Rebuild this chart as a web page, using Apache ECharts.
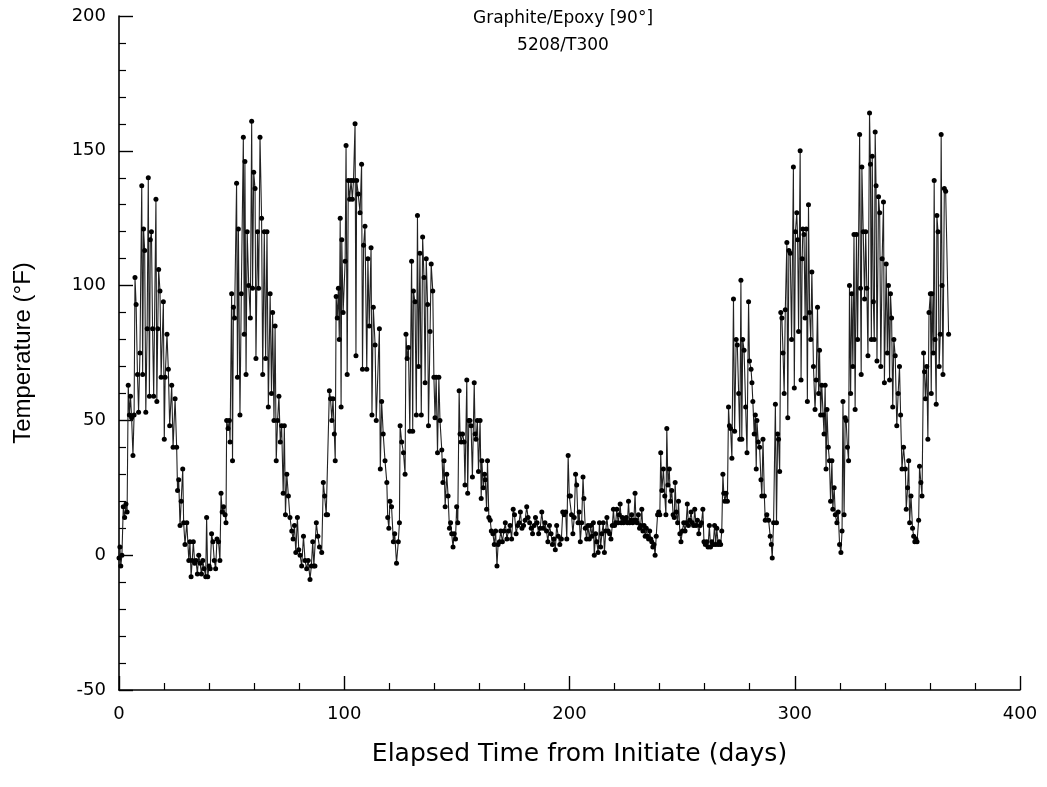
<!DOCTYPE html>
<html>
<head>
<meta charset="utf-8">
<script src="https://cdn.jsdelivr.net/npm/echarts@6/dist/echarts.min.js"></script>
<style>
html,body{margin:0;padding:0;background:#fff;}
#chart{width:1047px;height:787px;}
</style>
</head>
<body>
<div id="chart"></div>
<script>
// Axis settings
const xRange = [0, 400];
const xStep = 100;
const yRange = [-50, 200];
const yStep = 50;
const titleLines = ['Graphite/Epoxy [90°]', '5208/T300'];
const xName = 'Elapsed Time from Initiate (days)';
const yName = 'Temperature (°F)';

// [elapsed day, temperature °F]
const p1 = [[0,-1],[0.4,3],[0.8,-4],[1.3,0],[1.9,18],[2.5,14],[3.1,19],[3.6,16],
[4.1,63],[4.6,52],[5.1,59],[5.6,51],[6.2,37],[6.7,52],
[7.1,103],[7.6,93],[8.2,67],[8.7,53],[9.3,75],
[10.1,137],[10.5,67],[10.9,121],[11.4,113],[11.9,53],[12.5,84],
[13.0,140],[13.5,59],[13.9,117],[14.4,120],[14.9,84],[15.4,59],
[16.4,132],[16.8,57],[17.2,84],[17.6,106],[18.2,98],[18.7,66],
[19.7,94],[20.1,43],[20.5,66],[21.3,82],[21.9,69],[22.5,48],
[23.4,63],[24.0,40],[24.9,58],[25.6,40],[26.0,24],[26.5,28],[27.1,11],[27.6,20],[28.3,32],[28.7,12],[29.3,4],[30.1,12]];

const p2 = [[31.0,-2],[31.5,5],[32.0,-8],[32.5,-2],[33.0,5],[33.6,-3],[34.2,-2],[34.8,-7],[35.4,0],[36.0,-3],[36.6,-7],[37.2,-2],[37.8,-5],[38.5,-8],[38.9,14],[39.4,-8],[40.0,-4],[40.5,-5],[41.1,8],[41.7,5],[42.3,-2],[42.9,-5],[43.5,6],[44.2,5],[44.8,-2],[45.3,23],[45.8,16],[46.4,18],[47.1,15],[47.5,12],[47.8,50],[48.4,47],[49.0,50],[49.3,42],[50.0,97],[50.4,35],[50.8,92],[51.3,88]];

const p3 = [[52.2,138],[52.6,66],[53.0,121],[53.7,52],[54.3,97],[55.2,155],[55.6,82],[55.9,146],[56.4,67],[56.9,120],[57.6,100],[58.3,88],[58.9,161],[59.3,99],[59.8,142],[60.4,136],[60.8,73],[61.5,120],[62.0,99]];

const p4 = [[62.6,155],[63.3,125],[63.8,67],[64.5,120],[65.1,73],[65.7,120],[66.3,55],[67.1,97],[67.7,60],[68.2,90],[68.8,50],[69.3,85],[69.8,35],[70.4,50],[71.0,59],[71.6,42],[72.2,48],[72.9,23],[73.4,48],[73.9,15],[74.5,30],[75.2,22],[75.9,14],[76.7,9],[77.3,6],[77.9,11],[78.5,1],[79.2,14],[79.8,2],[80.4,0],[81.1,-4],[81.9,7],[82.6,-2],[83.3,-5],[84.0,-2],[84.8,-9],[85.4,-4],[86.0,5],[86.5,-4],[87.0,-4],[87.6,12],[88.3,7],[89.0,3],[90.0,1],[90.7,27],[91.3,22],[92.0,15],[92.6,15],[93.4,61],[93.9,58],[94.5,50],[95.0,58],[95.6,45],[96.0,35],[96.4,96],[96.9,88],[97.4,99],[97.8,80],[98.2,125],[98.6,55],[98.9,117],[99.5,90],[100.4,109],[100.8,152],[101.3,67],[101.8,139],[102.4,132],[103.0,139],[103.6,132],[104.1,139],[104.8,160],[105.2,74],[105.5,139],[106.2,134],[107.0,127],[107.7,145],[108.1,69],[108.6,115],[109.2,122],[110.0,69],[110.5,110],[111.1,85],[111.9,114],[112.3,52],[112.9,92],[113.7,78],[114.2,50],[115.6,84],[116.0,32],[116.6,57],[117.3,45],[118.1,35],[118.9,27],[119.3,14],[119.8,10],[120.3,20],[121.0,18],[121.8,5],[122.4,8],[123.2,-3],[124.0,5],[124.5,12],[124.8,48],[125.5,42],[126.3,38],[127.0,30],[127.4,82],[127.9,73],[128.5,77],[129.1,46],[129.9,109],[130.4,46],[130.7,98],[131.4,94],[132.0,52],[132.5,126]];

const p5 = [[133.0,70],[133.6,112],[134.2,52],[134.8,118],[135.4,103],[135.9,64],[136.4,110],[137.0,93],[137.4,48],[138.1,83],[138.6,108],[139.3,98],[139.8,66],[140.3,51],[140.8,66],[141.4,38],[142.0,66],[142.5,50],[143.3,39],[143.8,27],[144.3,35],[144.8,18],[145.5,30],[146.1,22],[146.7,10],[147.2,12],[147.7,8],[148.3,3],[148.8,8],[149.4,6],[149.9,18],[150.4,12],[151.0,61],[151.4,45],[151.9,42],[152.5,45],[153.2,42],[153.6,26],[154.4,65],[154.8,23],[155.3,50],[155.8,50],[156.3,48],[156.9,29],[157.7,64],[158.1,45],[158.5,43],[159.1,50],[159.6,31],[160.3,50],[160.8,21],[161.1,35],[161.7,25],[162.3,30],[162.6,28],[163.2,17],[163.6,35],[164.2,14],[164.8,13],[165.3,9],[166.0,8]];

const p6 = [[166.6,4],[167.2,9],[167.8,-4],[168.3,4],[168.9,5],[169.5,9],[170.2,5],[170.9,9],[171.5,12],[172.2,6],[172.9,9],[173.6,11],[174.3,6],[175.0,17],[175.6,15],[176.3,8],[177.0,11],[177.6,12],[178.2,16],[178.9,10],[179.6,11],[180.3,13],[181.0,18],[181.6,14],[182.3,12],[183.0,10],[183.6,8],[184.3,11],[184.9,14],[185.6,12],[186.3,8],[187.0,10],[187.7,16],[188.4,10],[189.1,12],[189.8,9],[190.4,5],[191.1,11],[191.8,8],[192.4,4],[193.1,6],[193.7,2],[194.3,11],[195.0,7],[195.7,4],[196.4,6],[197.0,16],[197.6,15],[198.3,16],[198.8,6],[199.4,37],[199.9,22],[200.4,22]];

const p7 = [[200.9,15],[201.5,8],[202.1,14],[202.7,30],[203.2,26],[203.8,12],[204.3,16],[204.8,5],[205.4,12],[206.0,29],[206.4,21],[207.0,10],[207.6,6],[208.2,11],[208.8,6],[209.4,11],[210.0,7],[210.6,12],[211.0,0],[211.6,8],[212.1,5],[212.7,1],[213.3,12],[213.8,3],[214.4,8],[215.0,12],[215.5,1],[216.1,9],[216.6,14],[217.2,9],[217.8,8],[218.4,6],[219.0,11],[219.5,17],[220.0,11],[220.5,12],[221.0,17],[221.6,12],[222.1,15],[222.5,19],[223.0,12],[223.5,14],[224.0,12],[224.6,13],[225.2,14],[225.7,12],[226.2,20],[226.7,12],[227.2,13],[227.6,15],[228.1,12],[228.6,13],[229.1,23],[229.5,13],[230.0,12],[230.6,15],[231.1,10],[231.6,11],[232.1,17],[232.6,9],[233.1,11],[233.6,7],[234.1,10],[234.6,7],[235.1,6],[235.6,9],[236.1,6],[236.5,5],[237.0,3],[237.5,4],[238.0,0],[238.5,7],[239.1,15],[239.6,16],[240.1,15],[240.5,38],[241.0,24],[241.7,32],[242.3,22],[242.8,15],[243.2,47],[243.7,26],[244.3,32],[244.8,20],[245.4,24],[246.0,15],[246.5,14],[246.9,27],[247.4,16],[248.0,12],[248.4,20],[249.0,8],[249.5,5],[250.1,9],[250.7,12],[251.3,9],[251.8,12],[252.3,19],[252.8,11],[253.4,13],[254.0,16],[254.5,12],[255.1,11],[255.6,17],[256.2,11],[256.8,13],[257.4,8],[258.0,11],[258.6,12],[259.2,17],[259.7,5],[260.3,4],[260.9,5],[261.5,3],[262.1,11],[262.6,3],[263.2,5],[263.8,4],[264.4,11],[264.9,4],[265.4,10],[266.0,4],[266.5,5],[267.1,4],[267.6,9]];

const p8 = [[268.1,30],[268.5,23],[269.0,20],[269.5,23],[270.1,20],[270.6,55],[271.0,48],[271.5,47],[272.1,36],[272.8,95],[273.3,46],[274.0,80],[274.5,78],[275.1,60],[275.6,43],[276.1,102],[276.5,43],[276.9,80],[277.5,76],[278.2,55],[278.8,38],[279.5,94],[279.9,72],[280.6,69],[281.0,64],[281.4,57],[282.0,45],[282.5,52],[282.9,32],[283.2,50],[283.8,42],[284.4,40],[285.0,28],[285.4,22],[285.9,43],[286.5,22],[286.9,13],[287.6,15],[288.4,13],[289.1,7],[289.6,4],[290.0,-1],[290.6,12],[291.4,56],[291.9,12],[292.4,45],[292.8,43],[293.3,31],[293.8,90],[294.3,88],[294.8,75],[295.3,60],[295.8,91],[296.5,116],[296.9,51],[297.4,113],[298.0,112],[298.6,80],[299.4,144],[299.8,62],[300.3,120],[300.9,127],[301.3,117],[301.7,83],[302.4,150],[302.8,65],[303.3,110],[303.6,121],[304.1,119],[304.6,88],[305.1,121],[305.6,57],[306.1,130],[306.6,90],[307.1,80],[307.6,105],[308.3,70],[309.0,54],[309.5,65],[310.1,92],[310.6,60],[311.0,76],[311.5,52],[312.0,63],[312.6,52],[313.0,45],[313.5,63],[313.9,32],[314.3,54],[314.9,40],[315.4,35],[315.9,20],[316.5,35],[316.9,17],[317.5,25],[318.0,15],[318.7,12],[319.3,16],[319.9,4],[320.5,1],[321.0,9],[321.4,57],[321.9,15],[322.4,51],[322.8,50],[323.4,40],[323.9,35],[324.3,100],[324.8,60],[325.3,97],[325.8,70],[326.3,119],[326.8,54],[327.4,119],[327.9,80],[328.8,156],[329.2,99],[329.5,67],[329.8,144],[330.4,120],[331.0,95],[331.5,120],[332.0,99],[332.5,74],[333.2,164],[333.6,145],[334.0,80],[334.4,148],[334.9,94],[335.3,80],[335.7,157],[336.1,137],[336.5,72],[337.2,133]];

const p9 = [[337.7,127],[338.2,70],[338.8,110],[339.4,131],[339.8,64],[340.6,108],[341.1,75],[341.6,100],[342.1,65],[342.5,97],[343.0,88],[343.5,55],[344.0,80],[344.6,74],[345.3,48],[345.9,60],[346.5,70],[347.0,52],[347.6,32],[348.3,40],[349.1,32],[349.5,17],[350.1,25],[350.6,35],[351.0,12],[351.6,22],[352.3,10],[352.8,7],[353.3,5],[353.8,6],[354.3,5],[355.0,13],[355.4,33],[356.0,27],[356.5,22],[357.2,75],[357.6,68],[358.0,58],[358.6,70],[359.1,43],[359.6,90],[360.2,97],[360.6,60],[360.9,97],[361.5,75],[361.9,139],[362.3,80],[362.8,56],[363.1,126],[363.6,120],[364.1,70],[364.6,82],[365.0,156],[365.4,100],[365.8,67],[366.4,136],[367.0,135],[368.3,82]];

const series90 = [].concat(p1, p2, p3, p4, p5, p6, p7, p8, p9);

const chart = echarts.init(document.getElementById('chart'), null, {renderer: 'canvas'});
const axisCommon = {
  axisLine: {show: true, onZero: false, lineStyle: {color: '#000', width: 1.6}},
  axisTick: {show: true, inside: true, length: 14, lineStyle: {color: '#000', width: 1.4}},
  minorTick: {show: true, splitNumber: 5, length: 7, lineStyle: {color: '#000', width: 1.2}},
  splitLine: {show: false},
  minorSplitLine: {show: false}
};
chart.setOption({
  animation: false,
  backgroundColor: '#fff',
  title: {
    text: titleLines.join('\n'),
    left: 558, top: 0, textAlign: 'center',
    textStyle: {fontFamily: 'DejaVu Sans', fontSize: 17, fontWeight: 'normal', color: '#000', lineHeight: 27}
  },
  grid: {left: 119, right: 27, top: 16, bottom: 97, containLabel: false},
  xAxis: Object.assign({
    type: 'value', min: xRange[0], max: xRange[1], interval: xStep,
    name: xName, nameLocation: 'middle', nameGap: 52,
    nameTextStyle: {fontFamily: 'DejaVu Sans', fontSize: 25, color: '#000', padding: [0, 0, 0, 20]},
    axisLabel: {margin: 15, fontFamily: 'DejaVu Sans', fontSize: 18, color: '#000'}
  }, axisCommon),
  yAxis: Object.assign({
    type: 'value', min: yRange[0], max: yRange[1], interval: yStep,
    name: yName, nameLocation: 'middle', nameGap: 84,
    nameTextStyle: {fontFamily: 'Liberation Sans', fontSize: 24, color: '#000'},
    axisLabel: {margin: 13, fontFamily: 'DejaVu Sans', fontSize: 18, color: '#000'}
  }, axisCommon),
  series: [{
    type: 'line',
    data: series90,
    symbol: 'circle',
    symbolSize: 5,
    showAllSymbol: true,
    itemStyle: {color: '#000'},
    lineStyle: {color: '#222', width: 1.1},
    emphasis: {disabled: true}
  }]
});
</script>
</body>
</html>
